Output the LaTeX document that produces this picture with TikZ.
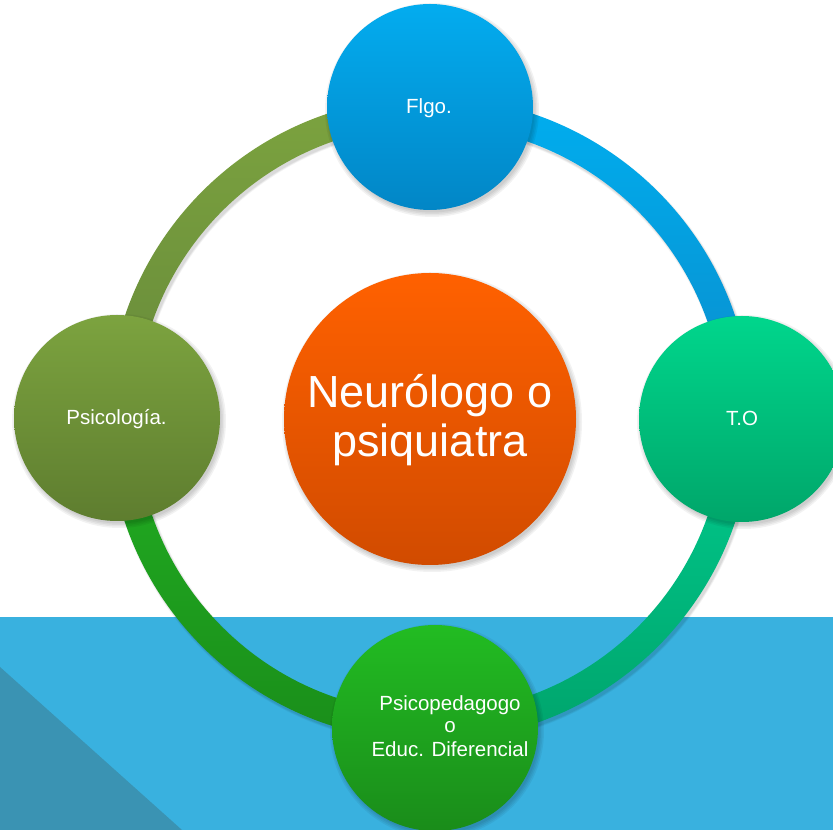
\documentclass[tikz,border=0pt]{standalone}
\usepackage{fontspec}
\setmainfont{Liberation Sans}
\definecolor{band}{HTML}{39B1DF}
\definecolor{tri}{HTML}{3A93B3}
\definecolor{blueA}{HTML}{03ACEF}
\definecolor{blueB}{HTML}{0286C6}
\definecolor{tealA}{HTML}{00D68C}
\definecolor{tealB}{HTML}{00A66A}
\definecolor{oliveA}{HTML}{7CA33F}
\definecolor{oliveB}{HTML}{5E7D2F}
\definecolor{grnA}{HTML}{22BC22}
\definecolor{grnB}{HTML}{1A8C1A}
\definecolor{orA}{HTML}{FF6100}
\definecolor{orB}{HTML}{D14B00}
\definecolor{arcBlueA}{HTML}{00AEEF}
\definecolor{arcBlueB}{HTML}{0A8CCB}
\definecolor{arcTealA}{HTML}{00CC8E}
\definecolor{arcTealB}{HTML}{00A46C}
\definecolor{arcGrnA}{HTML}{22AE22}
\definecolor{arcGrnB}{HTML}{1A8E1A}
\definecolor{arcOlvA}{HTML}{7CA33F}
\definecolor{arcOlvB}{HTML}{66893A}
\begin{document}
\begin{tikzpicture}[x=1pt,y=1pt,
  bubble/.style={circle, inner sep=0pt, draw=none, minimum size=206pt},
  lbl/.style={anchor=base, text=white, inner sep=0pt, font=\fontsize{20.5}{23}\selectfont},
  biglbl/.style={anchor=base, text=white, inner sep=0pt, font=\fontsize{45}{48}\selectfont}]
\useasboundingbox (0,0) rectangle (833,830);
\fill[white] (0,0) rectangle (833,830);
\fill[band] (0,0) rectangle (833,213);
\fill[tri] (0,0) -- (0,163) -- (182,0) -- cycle;
\coordinate (O) at (430,411);
\def\Ro{322}
\def\Ri{294}
\newcommand\ringseg[4]{%
  \shade[top color=#3,bottom color=#4] ([shift={(#1:\Ro)}]O) arc[start angle=#1,end angle=#2,radius=\Ro] -- ([shift={(#2:\Ri)}]O) arc[start angle=#2,end angle=#1,radius=\Ri] -- cycle;}
\newcommand\softshadow[3]{%
  \foreach \d in {4,2.5,1,-0.5}{\fill[black,opacity=0.05] (#1+2,#2-3) circle[radius=#3+\d];}}
% ring shadow
\foreach \d/\o in {3/0.04,1.5/0.05,0/0.06}{
  \draw[black,opacity=\o,line width=28+\d] ([shift={(2,-3)}]O) circle[radius=308];}
% ring segments
\ringseg{0}{90}{arcBlueA}{arcBlueB}
\ringseg{-90}{0}{arcTealA}{arcTealB}
\ringseg{180}{270}{arcGrnA}{arcGrnB}
\ringseg{90}{180}{arcOlvA}{arcOlvB}
% shadows of circles
\softshadow{430}{723}{103}
\softshadow{742}{411}{103}
\softshadow{117}{412}{103}
\softshadow{435}{102}{103}
\softshadow{430}{411}{146}
% circles
\node[bubble, top color=blueA, bottom color=blueB] (flgo) at (430,723) {};
\node[bubble, top color=tealA, bottom color=tealB] (to) at (742,411) {};
\node[bubble, top color=oliveA, bottom color=oliveB] (psico) at (117,412) {};
\node[bubble, top color=grnA, bottom color=grnB] (pped) at (435,102) {};
\node[bubble, minimum size=292pt, top color=orA, bottom color=orB] (neuro) at (430,411) {};
% labels
\node[lbl] (tflgo) at (429,716) {Flgo.};
\node[lbl] (tto) at (742,404) {T.O};
\node[lbl] (tpsico) at (116.5,405) {Psicología.};
\node[lbl] (tpped1) at (450,119) {Psicopedagogo};
\node[lbl] (tpped2) at (450,97) {o};
\node[lbl] (tpped3) at (450,73) {Educ. Diferencial};
\node[biglbl] (tneuro1) at (430,422) {Neurólogo o};
\node[biglbl] (tneuro2) at (430,373) {psiquiatra};
\end{tikzpicture}
\end{document}
